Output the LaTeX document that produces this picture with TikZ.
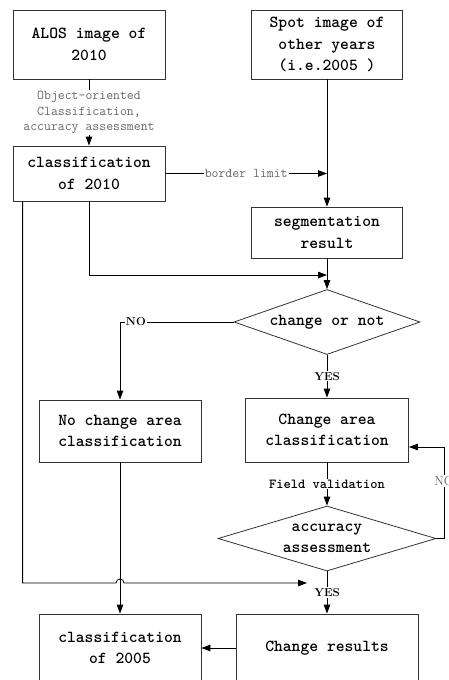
\documentclass[tikz,border=0pt]{standalone}
\usetikzlibrary{arrows.meta,shapes.geometric}

\begin{document}
\begin{tikzpicture}[
  x=1pt,y=-1pt,line width=.8pt,
  box/.style={draw=black!80,align=center,inner sep=0pt,font=\ttfamily\bfseries\fontsize{16.8}{21.5}\selectfont},
  test/.style={draw=black!80,diamond,align=center,inner sep=0pt,font=\ttfamily\bfseries\fontsize{16.8}{21.5}\selectfont},
  note/.style={fill=white,inner sep=1pt,text=black!60,align=center,font=\ttfamily\fontsize{13.4}{15.5}\selectfont},
  tag/.style={fill=white,inner sep=1pt,font=\bfseries\fontsize{11.5}{13}\selectfont},
  flow/.style={-{Triangle[length=9pt,width=6.5pt]}}
]
  \clip (0,0) rectangle (449,680);

  \node[box,minimum width=152,minimum height=69] (alos) at (89,44.5) {ALOS image of\\2010};
  \node[box,minimum width=151,minimum height=69] (spot) at (327,44.5) {Spot image of\\other years\\(i.e.2005 )};
  \node[box,minimum width=152,minimum height=55] (cls10) at (89,173.5) {classification\\of 2010};
  \node[box,minimum width=151,minimum height=51] (seg) at (327,232.5) {segmentation\\result};
  \node[test,aspect=2.86,minimum width=186,minimum height=65] (chg) at (327,322) {change or not};
  \node[box,minimum width=162,minimum height=62] (nochg) at (120,431) {No change area\\classification};
  \node[box,minimum width=163,minimum height=64] (chgarea) at (327,430) {Change area\\classification};
  \node[test,aspect=3.35,minimum width=218,minimum height=65] (acc) at (327,538.5) {accuracy\\assessment};
  \node[box,minimum width=162,minimum height=68] (cls05) at (120,648) {classification\\of 2005};
  \node[box,minimum width=182,minimum height=68] (chgres) at (327,648) {Change results};

  \coordinate (join0) at (spot.south |- cls10.east);
  \coordinate (join1) at (327,275);
  \coordinate (lend) at (307,583);

  \draw[flow] (alos) -- node[note] (ooc) {Object-oriented\\Classification,\\accuracy assessment} (cls10);
  \draw[flow] (cls10.east) -- node[note] (bord) {border limit} (join0);
  \draw[flow] (spot) -- (seg);
  \draw[flow] (seg) -- (chg);
  \draw[flow] (cls10.south) |- (join1);
  \draw[flow] (chg.west) -| node[tag,pos=.43] (no1) {NO} (nochg.north);
  \draw[flow] (chg) -- node[tag] (yes1) {YES} (chgarea);
  \draw[flow] (chgarea) -- node[tag,font=\ttfamily\bfseries\fontsize{13.8}{15}\selectfont] (field) {Field validation} (acc);
  \draw[flow] (acc.east) -- (444,538.5) -- node[pos=.63,fill=white,inner sep=1pt,text=black!60,font=\fontsize{13}{15}\selectfont] (no2) {NO} (444,447) -- (chgarea.east |- 0,447);
  \draw[flow] (acc) -- node[tag] (yes2) {YES} (chgres);
  \draw[flow] ([xshift=10pt]cls10.south west) |- (116,583) arc[start angle=180,end angle=0,radius=4pt] -- (lend);
  \draw[flow] (nochg) -- (cls05);
  \draw[flow] (chgres) -- (cls05);
\end{tikzpicture}
\end{document}
